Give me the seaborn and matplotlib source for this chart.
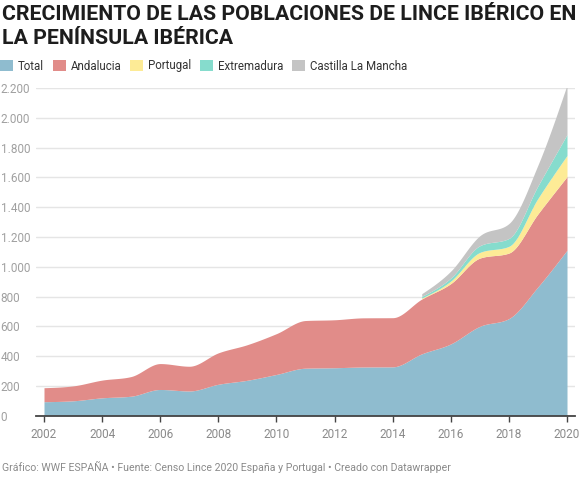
import numpy as np
import matplotlib
matplotlib.use("Agg")
import matplotlib.pyplot as plt
from matplotlib.patches import Patch
import seaborn as sns

# datos
years = [2002, 2003, 2004, 2005, 2006, 2007, 2008, 2009, 2010, 2011,
         2012, 2013, 2014, 2015, 2016, 2017, 2018, 2019, 2020]
total = [94, 100, 120, 131, 176, 166, 211, 238, 277, 319,
         322, 327, 328, 415, 482, 600, 652, 865, 1111]
andalucia = [94, 100, 119, 132, 174, 166, 211, 239, 274, 320,
             322, 330, 330, 368, 405, 458, 440, 490, 494]
years_new = [2015, 2016, 2017, 2018, 2019, 2020]
portugal = [7, 17, 38, 45, 104, 142]
extremadura = [11, 20, 45, 53, 84, 140]
castilla = [18, 47, 67, 100, 140, 333]

labels = ["Total", "Andalucia", "Portugal", "Extremadura", "Castilla La Mancha"]
colors = ["#8fbccf", "#e18c89", "#fdeb96", "#86dccd", "#c4c4c4"]


def monotone(x, y, n=30):
    # curva monotona tipo d3.curveMonotoneX
    x = np.asarray(x, float)
    y = np.asarray(y, float)
    h = np.diff(x)
    d = np.diff(y) / h
    m = np.zeros_like(y)
    s0, s1 = d[:-1], d[1:]
    h0, h1 = h[:-1], h[1:]
    p = (s0 * h1 + s1 * h0) / (h0 + h1)
    m[1:-1] = (np.sign(s0) + np.sign(s1)) * np.minimum.reduce(
        [np.abs(s0), np.abs(s1), 0.5 * np.abs(p)])
    m[0] = (3 * d[0] - m[1]) / 2
    m[-1] = (3 * d[-1] - m[-2]) / 2
    xs, ys = [], []
    for i in range(len(x) - 1):
        t = np.linspace(0, 1, n, endpoint=(i == len(x) - 2))
        h00 = 2 * t**3 - 3 * t**2 + 1
        h10 = t**3 - 2 * t**2 + t
        h01 = -2 * t**3 + 3 * t**2
        h11 = t**3 - t**2
        xs.append(x[i] + t * h[i])
        ys.append(h00 * y[i] + h10 * h[i] * m[i] + h01 * y[i + 1] + h11 * h[i] * m[i + 1])
    return np.concatenate(xs), np.concatenate(ys)


sns.set_theme(style="white")
plt.rcParams["font.family"] = ["Roboto", "DejaVu Sans"]

fig = plt.figure(figsize=(5.82, 4.80), dpi=100)
ax = fig.add_axes([36 / 582, 1 - 415.7 / 480, 539 / 582, (415.7 - 88) / 480])

# capas apiladas
top_total = np.array(total, float)
top_and = top_total + np.array(andalucia, float)
xs, y_tot = monotone(years, top_total)
_, y_and = monotone(years, top_and)
ax.fill_between(xs, 0, y_tot, color=colors[0], lw=0, zorder=2)
ax.fill_between(xs, y_tot, y_and, color=colors[1], lw=0, zorder=2)

base = top_and[years.index(2015):]
mask = xs >= 2015
lower = y_and[mask]
xn = xs[mask]
cum = base.copy()
for vals, col in zip([portugal, extremadura, castilla], colors[2:]):
    cum = cum + np.array(vals, float)
    _, upper = monotone(years_new, cum)
    ax.fill_between(xn, lower, upper, color=col, lw=0, zorder=2)
    lower = upper

ax.set_xlim(2002 - 8 / 29.06, 2020 + 8 / 29.06)
ax.set_ylim(0, 2200)
ax.set_yticks(range(0, 2201, 200))
ax.set_yticklabels([f"{v:,}".replace(",", ".") for v in range(0, 2201, 200)],
                   ha="left", color="#a0a0a0", fontsize=8.5)
ax.set_xticks(range(2002, 2021, 2))
ax.set_xticklabels([str(y) for y in range(2002, 2021, 2)], color="#8a8a8a", fontsize=8.5)
ax.tick_params(axis="y", length=0, pad=25.5)
ax.tick_params(axis="x", length=4, width=1, color="#444444", pad=5, direction="out", bottom=True)
ax.grid(axis="y", color="#e5e5e5", lw=1, zorder=0)
sns.despine(ax=ax, left=True, top=True, right=True)
ax.spines["bottom"].set_color("#444444")
ax.spines["bottom"].set_linewidth(1.3)
ax.spines["bottom"].set_zorder(3)

fig.text(0.003, 1 - 14 / 480, "CRECIMIENTO DE LAS POBLACIONES DE LINCE IBÉRICO EN",
         fontsize=15.3, fontweight="bold", color="#1d1d1d", va="center", ha="left")
fig.text(0.003, 1 - 38 / 480, "LA PENÍNSULA IBÉRICA",
         fontsize=15.3, fontweight="bold", color="#1d1d1d", va="center", ha="left")

handles = [Patch(facecolor=c, edgecolor="none", label=l) for c, l in zip(colors, labels)]
fig.legend(handles=handles, loc="center left", bbox_to_anchor=(0.0, 1 - 66 / 480),
           ncol=5, frameon=False, fontsize=8.3, handlelength=1.13, handleheight=1.13,
           handletextpad=0.43, columnspacing=0.75, borderpad=0, borderaxespad=0,
           labelcolor="#333333")

fig.text(0.003, 1 - 467 / 480,
         "Gráfico: WWF ESPAÑA • Fuente: Censo Lince 2020 España y Portugal • Creado con Datawrapper",
         fontsize=7.6, color="#8a8a8a", va="center", ha="left")

fig.savefig("out.png", dpi=100)
